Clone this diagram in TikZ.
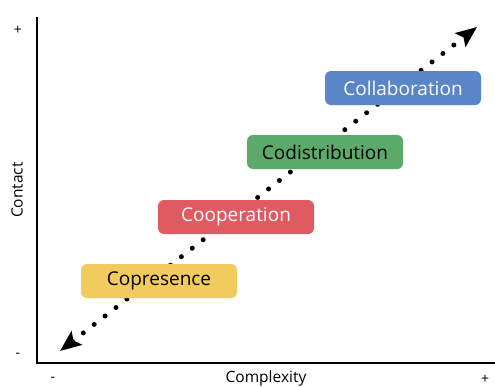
\documentclass[tikz,border=0pt]{standalone}
\usepackage{fontspec}
\setmainfont{Open Sans}
\usetikzlibrary{arrows.meta}
\definecolor{cyellow}{HTML}{F2CB5E}
\definecolor{cred}{HTML}{E05A62}
\definecolor{cgreen}{HTML}{5BAA6A}
\definecolor{cblue}{HTML}{5A85C6}
\tikzset{
  stage/.style={rounded corners=6pt, minimum width=156pt, minimum height=34pt,
    inner sep=0pt, font=\fontsize{19}{22}\selectfont},
  axis/.style={line width=2pt},
  ticklabel/.style={font=\fontsize{14}{16}\selectfont},
  axislabel/.style={font=\fontsize{15.5}{18}\selectfont},
  trend/.style={line width=5pt, line cap=round, dash pattern=on 0pt off 13.8pt,
    {Stealth[length=21pt,width=17pt,inset=4pt]}-{Stealth[length=21pt,width=17pt,inset=4pt]}},
}
\begin{document}
\begin{tikzpicture}[x=1pt,y=-1pt]
  \useasboundingbox[fill=white] (0,0) rectangle (495,386);

  % axes
  \coordinate (top) at (37,17);
  \coordinate (origin) at (37,363);
  \coordinate (right) at (495,363);
  \draw[axis] (top) -- (origin) -- (right);

  \node[ticklabel] (yplus) at (18,30) {+};
  \node[ticklabel] (yminus) at (18,355) {-};
  \node[axislabel, rotate=90] (ylab) at (17,190) {Contact};
  \node[ticklabel] (xminus) at (53,379) {-};
  \node[axislabel] (xlab) at (266,378) {Complexity};
  \node[ticklabel] (xplus) at (485,379) {+};

  % dotted trend line with arrow heads at both ends
  \coordinate (low) at (60,351);
  \coordinate (high) at (477,27);
  \draw[trend] (low) -- (high);

  % stages
  \node[stage, fill=cyellow, text=black] (copresence) at (159,281) {Copresence};
  \node[stage, fill=cred, text=white] (cooperation) at (236,217) {Cooperation};
  \node[stage, fill=cgreen, text=black] (codistribution) at (325,152) {Codistribution};
  \node[stage, fill=cblue, text=white] (collaboration) at (403,88) {Collaboration};
\end{tikzpicture}
\end{document}
